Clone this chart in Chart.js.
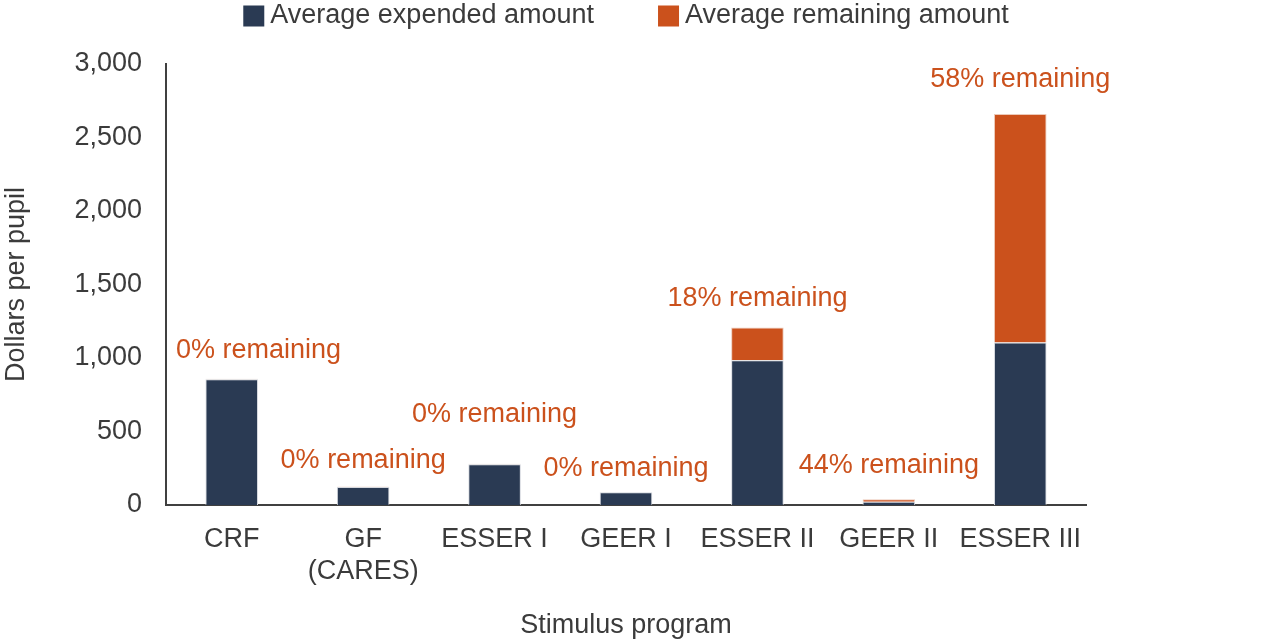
<!DOCTYPE html>
<html>
<head>
<meta charset="utf-8">
<script src="https://cdn.jsdelivr.net/npm/chart.js@4.4.0/dist/chart.umd.min.js"></script>
<style>
  html, body { margin: 0; padding: 0; background: #fff; }
  #wrap { width: 1280px; height: 642px; }
</style>
</head>
<body>
<div id="wrap"><canvas id="chart" width="1280" height="642"></canvas></div>
<script>
const programs = ['CRF', ['GF', '(CARES)'], 'ESSER I', 'GEER I', 'ESSER II', 'GEER II', 'ESSER III'];
const expended = [855, 122, 278, 86, 985, 22, 1105];
const remaining = [4, 3, 2, 1, 222, 17, 1555];
const remainingLabels = ['0% remaining', '0% remaining', '0% remaining', '0% remaining', '18% remaining', '44% remaining', '58% remaining'];
const labelValues = [1049, 305, 616, 251, 1402, 271, 2892];
const yTicks = [0, 500, 1000, 1500, 2000, 2500, 3000];

const NAVY = '#2a3a53';
const ORANGE = '#cb511c';
const TEXT = '#3b3b3b';
const AXIS = '#404040';
const FONT = '"Liberation Sans", Arial, sans-serif';

// percent-remaining notes over each bar
const notesPlugin = {
    id: 'notes',
    afterDatasetsDraw(chart) {
        const { ctx, chartArea, scales } = chart;
        ctx.save();
        ctx.font = '27px ' + FONT;
        ctx.fillStyle = ORANGE;
        ctx.textAlign = 'center';
        ctx.textBaseline = 'middle';
        remainingLabels.forEach((txt, i) => {
            const w = ctx.measureText(txt).width;
            let x = scales.x.getPixelForValue(i);
            x = Math.max(x, chartArea.left + 10 + w / 2);
            ctx.fillText(txt, x, scales.y.getPixelForValue(labelValues[i]));
        });
        ctx.restore();
    }
};

// legend drawn centred over the plot area
const legendPlugin = {
    id: 'topLegend',
    afterDraw(chart) {
        const { ctx, chartArea } = chart;
        const items = chart.data.datasets.map(d => ({ text: d.label, color: d.backgroundColor }));
        ctx.save();
        ctx.font = '27px ' + FONT;
        ctx.textBaseline = 'middle';
        const box = 21, gapText = 6, gapItem = 64;
        let total = 0;
        items.forEach((it, i) => {
            total += box + gapText + ctx.measureText(it.text).width;
            if (i < items.length - 1) total += gapItem;
        });
        let x = (chartArea.left + chartArea.right) / 2 - total / 2;
        const y = 16;
        items.forEach(it => {
            ctx.fillStyle = it.color;
            ctx.fillRect(x, y - box / 2, box, box);
            x += box + gapText;
            ctx.fillStyle = TEXT;
            ctx.fillText(it.text, x, y);
            x += ctx.measureText(it.text).width + gapItem;
        });
        ctx.restore();
    }
};

new Chart(document.getElementById('chart'), {
    type: 'bar',
    data: {
        labels: programs,
        datasets: [
            {
                label: 'Average expended amount',
                data: expended,
                backgroundColor: NAVY,
                borderColor: '#d5d8de',
                borderWidth: 1,
                barPercentage: 0.4,
                categoryPercentage: 1
            },
            {
                label: 'Average remaining amount',
                data: remaining,
                backgroundColor: ORANGE,
                borderColor: '#ecc9b8',
                borderWidth: 1,
                barPercentage: 0.4,
                categoryPercentage: 1
            }
        ]
    },
    options: {
        responsive: false,
        animation: false,
        layout: { padding: { left: 0, right: 194, top: 64, bottom: 0 } },
        plugins: {
            legend: { display: false },
            tooltip: { enabled: false }
        },
        scales: {
            x: {
                stacked: true,
                grid: { display: false, drawTicks: false },
                border: { display: true, color: AXIS, width: 2 },
                ticks: {
                    color: TEXT,
                    font: { family: FONT, size: 27 },
                    padding: 18,
                    maxRotation: 0,
                    autoSkip: false
                },
                title: {
                    display: true,
                    text: 'Stimulus program',
                    color: TEXT,
                    font: { family: FONT, size: 27 },
                    padding: { top: 18, bottom: 0 }
                },
                afterFit(scale) { scale.height = 137; }
            },
            y: {
                stacked: true,
                min: 0,
                max: 3000,
                afterBuildTicks(scale) { scale.ticks = yTicks.map(v => ({ value: v })); },
                grid: { display: false, drawTicks: false },
                border: { display: true, color: AXIS, width: 2 },
                ticks: {
                    color: TEXT,
                    font: { family: FONT, size: 27 },
                    padding: 24,
                    callback: v => v.toLocaleString('en-US')
                },
                title: {
                    display: true,
                    text: 'Dollars per pupil',
                    color: TEXT,
                    font: { family: FONT, size: 27 },
                    padding: { top: 0, bottom: 0 }
                },
                afterFit(scale) { scale.width = 166; }
            }
        }
    },
    plugins: [notesPlugin, legendPlugin]
});
</script>
</body>
</html>
